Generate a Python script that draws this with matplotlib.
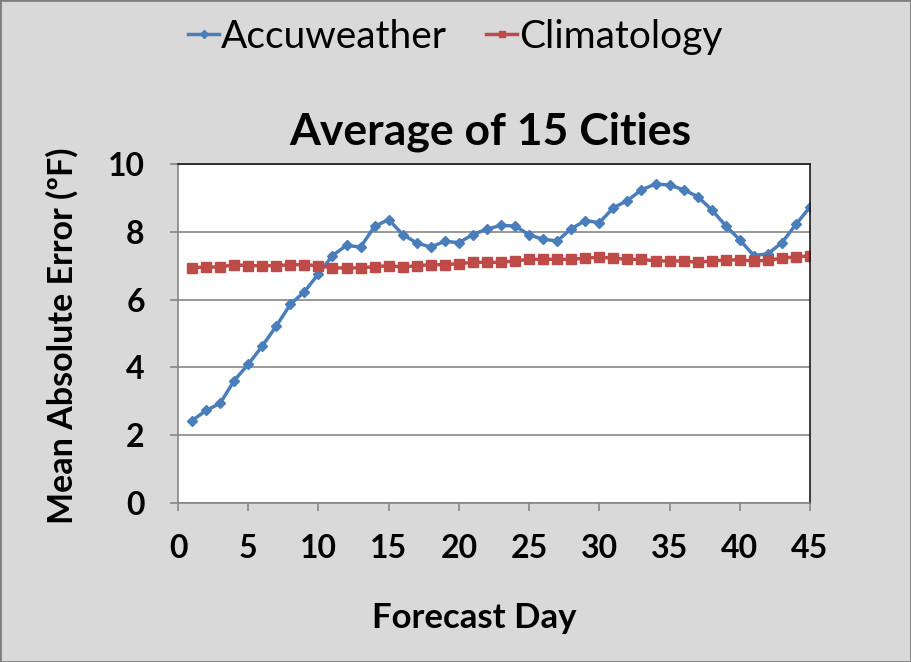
import numpy as np
import matplotlib.pyplot as plt
from matplotlib.patches import Rectangle

plt.rcParams['font.family'] = ['Lato', 'DejaVu Sans']

# Data
days = np.arange(1, 46)
accuweather = [2.43, 2.73, 2.94, 3.61, 4.09, 4.63, 5.22, 5.86, 6.23, 6.76,
               7.30, 7.60, 7.55, 8.16, 8.36, 7.92, 7.67, 7.55, 7.72, 7.68,
               7.92, 8.08, 8.19, 8.17, 7.91, 7.78, 7.73, 8.09, 8.33, 8.27,
               8.71, 8.92, 9.24, 9.41, 9.38, 9.24, 9.04, 8.65, 8.18, 7.76,
               7.30, 7.35, 7.68, 8.22, 8.73]
climatology = [6.94, 6.96, 6.96, 7.03, 7.00, 7.00, 7.00, 7.03, 7.03, 7.00,
               6.94, 6.93, 6.94, 6.97, 7.00, 6.96, 7.00, 7.03, 7.03, 7.06,
               7.10, 7.10, 7.10, 7.14, 7.19, 7.19, 7.19, 7.19, 7.22, 7.25,
               7.22, 7.19, 7.19, 7.14, 7.14, 7.14, 7.10, 7.14, 7.17, 7.17,
               7.14, 7.16, 7.22, 7.26, 7.29]
x_ticks = [0, 5, 10, 15, 20, 25, 30, 35, 40, 45]
y_ticks = [0, 2, 4, 6, 8, 10]

W, H = 911, 662
fig = plt.figure(figsize=(W / 100, H / 100), dpi=100, facecolor='#d9d9d9')
ax = fig.add_axes([178 / W, 1 - 503 / H, (810 - 178) / W, (503 - 164) / H])
ax.set_facecolor('white')

ax.plot(days, accuweather, color='#4a7ebb', lw=2.5, marker='D', ms=5.5, label='Accuweather')
ax.plot(days, climatology, color='#be4b48', lw=2.5, marker='s', ms=6.5, label='Climatology')

ax.set_xlim(0, 45)
ax.set_ylim(0, 10)
ax.set_xticks(x_ticks)
ax.set_yticks(y_ticks)
ax.grid(axis='y', color='#868686', lw=1.2)
ax.set_axisbelow(True)
for s in ['top', 'right']:
    ax.spines[s].set_color('#1a1a1a')
    ax.spines[s].set_linewidth(1.2)
for s in ['left', 'bottom']:
    ax.spines[s].set_color('#868686')
    ax.spines[s].set_linewidth(1.2)
ax.tick_params(direction='out', length=6, color='#868686', width=1.2,
               labelsize=23)
for lab in ax.get_xticklabels() + ax.get_yticklabels():
    lab.set_fontweight('bold')
ax.tick_params(axis='x', pad=16)
ax.tick_params(axis='y', pad=18)

# title and axis labels
fig.text(490 / W, 1 - 145 / H, 'Average of 15 Cities', fontsize=32, fontweight='bold',
         ha='center', va='baseline')
fig.text(474 / W, 1 - 628 / H, 'Forecast Day', fontsize=25, fontweight='bold',
         ha='center', va='baseline')
fig.text(62 / W, 1 - 336 / H, 'Mean Absolute Error (ºF)', fontsize=24.5, fontweight='bold',
         ha='center', va='center', rotation=90)

fig.legend(loc='center', bbox_to_anchor=(0.5, 1 - 37 / H), ncol=2, frameon=False,
           fontsize=28, handlelength=0.8, handletextpad=0.05, columnspacing=1.0,
           markerscale=0.75)

fig.patches.append(Rectangle((0, 0), 1, 1, transform=fig.transFigure,
                             fill=False, edgecolor='#7f7f7f', lw=2))

fig.savefig('out.png', dpi=100, facecolor=fig.get_facecolor())
